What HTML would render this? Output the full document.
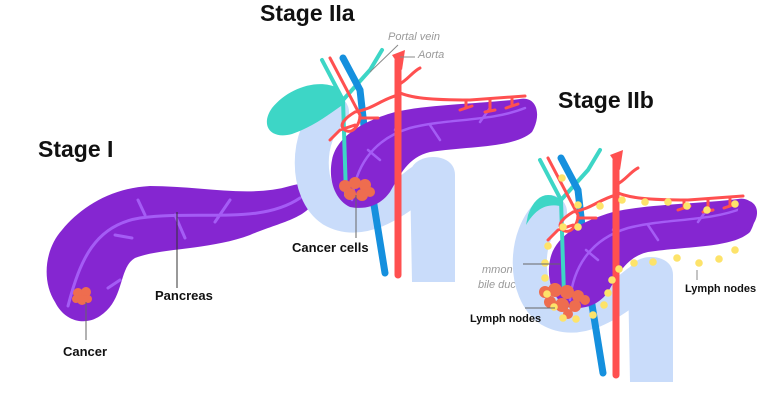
<!DOCTYPE html>
<html><head><meta charset="utf-8"><style>
html,body{margin:0;padding:0;background:#fff;width:778px;height:400px;overflow:hidden}
svg{display:block}
.t{font-family:"Liberation Sans",sans-serif;font-weight:bold;fill:#111}
.g{font-family:"Liberation Sans",sans-serif;font-style:italic;fill:#999;font-size:11px}
</style></head><body>
<svg width="778" height="400" viewBox="0 0 778 400" xmlns="http://www.w3.org/2000/svg">
<defs>
<g id="st">
  <path d="M332,112 C305,135 305,192 332,210 C360,226 392,205 420,182" fill="none" stroke="#c9dcfa" stroke-width="34" stroke-linecap="round"/>
  <path d="M410,175 C410,152 455,150 455,175 L455,282 L412,282 Z" fill="#c9dcfa"/>
  <path d="M343,100 L322,60 M343,100 L370,70 L382,50" fill="none" stroke="#3dd6c6" stroke-width="4" stroke-linecap="round"/>
  <path d="M343,58 L360,90 L370,180 L385,273" fill="none" stroke="#1590de" stroke-width="7" stroke-linecap="round"/>
  <path d="M350,207 C335,200 328,180 332,160 C336,138 360,122 395,112 C430,104 480,104 520,99 C537,96 542,115 532,132 C515,148 470,146 430,152 C408,157 400,175 390,192 C380,206 365,210 350,207 Z" fill="#8526d1"/>
  <path d="M352,200 C355,170 370,140 410,128 C450,118 490,122 525,108 M368,150 L380,160 M395,130 L400,118 M430,125 L440,140 M480,122 L490,108" fill="none" stroke="#a45cf5" stroke-width="2.5" stroke-linecap="round"/>
  <path d="M346,195 L343,100" fill="none" stroke="#3dd6c6" stroke-width="4" stroke-linecap="round"/>
  <path d="M398,60 L398,275" fill="none" stroke="#ff5050" stroke-width="7" stroke-linecap="round"/>
  <path d="M392,55 L405,50 L402,70 Z" fill="#ff5050"/>
  <path d="M398,92 C410,98 430,100 470,100 L525,96 M398,95 C380,100 375,108 355,112 C345,118 338,125 345,130 C352,135 360,125 360,115 L330,58 M398,85 C408,80 412,72 420,68 M355,125 L340,130 L330,140 M360,118 L378,118" fill="none" stroke="#ff5050" stroke-width="3" stroke-linecap="round"/>
  <path d="M466,100 L466,108 M460,110 L472,106 M490,100 L490,110 M485,112 L495,110 M512,98 L512,106 M506,108 L518,104" fill="none" stroke="#ff5050" stroke-width="3" stroke-linecap="round"/>
</g>
</defs>

<text class="t" x="38" y="157" font-size="23">Stage I</text>
<path d="M55,302 C42,282 44,250 62,230 C80,208 110,188 150,186 C200,186 250,198 290,186 C305,182 318,182 316,195 C312,218 280,222 250,235 C210,250 160,248 135,258 C118,268 125,300 100,316 C85,326 65,322 55,302 Z" fill="#8526d1"/>
<path d="M68,306 C80,260 95,225 140,218 C200,210 260,225 300,198 M115,235 L132,238 M120,280 L108,288 M138,200 L145,215 M175,215 L185,238 M230,200 L215,222" fill="none" stroke="#a45cf5" stroke-width="3" stroke-linecap="round"/>
<g fill="#ee6d4f"><circle cx="78" cy="293" r="5"/><circle cx="86" cy="292" r="5"/><circle cx="82" cy="300" r="5"/><circle cx="88" cy="299" r="4"/><circle cx="76" cy="299" r="4"/></g>
<line x1="86" y1="302" x2="86" y2="340" stroke="#666" stroke-width="1"/>
<line x1="177" y1="212" x2="177" y2="288" stroke="#333" stroke-width="1"/>
<text class="t" x="155" y="300" font-size="13">Pancreas</text>
<text class="t" x="63" y="356" font-size="13">Cancer</text>

<text class="t" x="260" y="21" font-size="23">Stage IIa</text>
<use href="#st"/>
<path d="M338,88 C318,78 288,88 272,108 C260,125 270,140 292,134 C315,126 332,112 344,104 Z" fill="#3dd6c6"/>
<g fill="#ee6d4f"><circle cx="345" cy="186" r="6"/><circle cx="355" cy="183" r="6"/><circle cx="365" cy="185" r="6"/><circle cx="350" cy="194" r="6"/><circle cx="362" cy="195" r="6"/><circle cx="370" cy="192" r="5"/></g>
<line x1="356" y1="195" x2="356" y2="238" stroke="#666" stroke-width="1"/>
<text class="t" x="292" y="252" font-size="13">Cancer cells</text>
<line x1="370" y1="72" x2="398" y2="45" stroke="#888" stroke-width="1"/>
<text class="g" x="388" y="40">Portal vein</text>
<line x1="400" y1="57" x2="415" y2="57" stroke="#888" stroke-width="1"/>
<text class="g" x="418" y="58">Aorta</text>

<text class="t" x="558" y="108" font-size="23">Stage IIb</text>
<text class="g" x="482" y="273">mmon</text>
<text class="g" x="478" y="288">bile duct</text>
<use href="#st" transform="translate(218,100)"/>
<path d="M561,200 C548,190 535,195 528,215 L526,225 C535,210 545,203 560,206 Z" fill="#3dd6c6"/>
<path d="M740,200 C760,198 762,218 748,230 L735,225 Z" fill="#8526d1"/>
<g fill="#ee6d4f"><circle cx="545" cy="292" r="6"/><circle cx="555" cy="290" r="7"/><circle cx="567" cy="292" r="7"/><circle cx="578" cy="296" r="6"/><circle cx="550" cy="302" r="6"/><circle cx="562" cy="305" r="7"/><circle cx="575" cy="306" r="6"/><circle cx="585" cy="300" r="5"/><circle cx="568" cy="314" r="5"/></g>
<g fill="#fde36a">
<circle cx="562" cy="178" r="3.8"/><circle cx="578" cy="205" r="3.8"/><circle cx="600" cy="206" r="3.8"/><circle cx="622" cy="200" r="3.8"/><circle cx="645" cy="202" r="3.8"/><circle cx="668" cy="202" r="3.8"/><circle cx="687" cy="206" r="3.8"/><circle cx="707" cy="210" r="3.8"/><circle cx="735" cy="204" r="3.8"/><circle cx="563" cy="227" r="3.8"/><circle cx="578" cy="227" r="3.8"/><circle cx="548" cy="246" r="3.8"/><circle cx="545" cy="263" r="3.8"/><circle cx="545" cy="278" r="3.8"/><circle cx="547" cy="294" r="3.8"/><circle cx="554" cy="307" r="3.8"/><circle cx="563" cy="318" r="3.8"/><circle cx="576" cy="319" r="3.8"/><circle cx="593" cy="315" r="3.8"/><circle cx="604" cy="305" r="3.8"/><circle cx="608" cy="293" r="3.8"/><circle cx="612" cy="280" r="3.8"/><circle cx="619" cy="269" r="3.8"/><circle cx="634" cy="263" r="3.8"/><circle cx="653" cy="262" r="3.8"/><circle cx="677" cy="258" r="3.8"/><circle cx="699" cy="263" r="3.8"/><circle cx="719" cy="259" r="3.8"/><circle cx="735" cy="250" r="3.8"/>
</g>
<line x1="523" y1="264" x2="560" y2="264" stroke="#666" stroke-width="1"/>
<line x1="525" y1="308" x2="555" y2="308" stroke="#666" stroke-width="1"/>
<line x1="697" y1="270" x2="697" y2="280" stroke="#888" stroke-width="1"/>
<text class="t" x="470" y="322" font-size="11">Lymph nodes</text>
<text class="t" x="685" y="292" font-size="11">Lymph nodes</text>
</svg>
</body></html>
